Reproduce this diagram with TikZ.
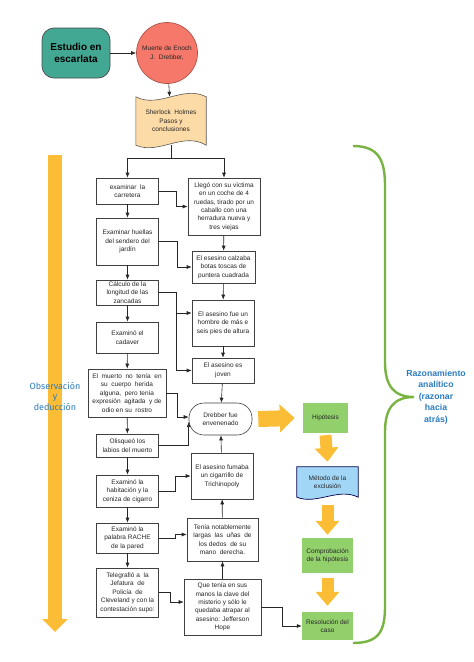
\documentclass[tikz,border=0pt]{standalone}
\usepackage{fontspec}
\setmainfont{Liberation Sans}
\newfontfamily\manofont{Fira Sans}
\usetikzlibrary{positioning, arrows.meta, shapes.geometric, backgrounds}
\definecolor{verdeazul}{HTML}{43A893}
\definecolor{salmon}{HTML}{F5786A}
\definecolor{pergamino}{HTML}{FDDBA6}
\definecolor{verdecaja}{HTML}{92D06C}
\definecolor{celeste}{HTML}{A2D6F7}
\definecolor{naranja}{HTML}{FBBD35}
\definecolor{llave}{HTML}{79B443}
\definecolor{azultexto}{HTML}{2B7BC0}

\begin{document}
\begin{tikzpicture}[
    x=1pt, y=-1pt,
    every node/.style={align=center, font=\fontsize{6.5}{8.4}\selectfont, text=black!85},
    inicio/.style={rectangle, rounded corners=12pt, draw=black!70, fill=verdeazul, line width=0.7pt, minimum width=68pt, minimum height=50pt, font=\bfseries\fontsize{10}{12.5}\selectfont, text=black},
    suceso/.style={circle, draw=salmon!70!black, fill=salmon, line width=0.7pt, minimum size=61pt, inner sep=0pt},
    paso/.style={rectangle, draw=black!75, fill=white, line width=0.6pt, inner sep=1pt},
    izq/.style={paso, minimum width=62pt},
    metodo/.style={rectangle, fill=verdecaja, inner sep=1pt},
    arrow/.style={-{Latex[length=5pt, width=4pt]}, line width=0.6pt, black!85},
    gorda/.style={naranja, line width=#1},
]

% --- Inicio
\draw[use as bounding box, draw=none] (0,0) rectangle (474,662);
\node[inicio] (estudio) at (76,53) {Estudio en\\escarlata};
\node[suceso] (muerte) at (167,53) {Muerte de Enoch\\J.\ \ Drebber,};
\node[minimum width=70pt, minimum height=48pt, inner sep=0pt] (pasos) at (171,121) {Sherlock\ \ Holmes\\Pasos y\\conclusiones};
\begin{scope}[on background layer]
\draw[fill=pergamino, draw=black!65, line width=0.6pt] (pasos.north west) .. controls +(23,12) and +(-23,-12) .. (pasos.north east) -- (pasos.south east) .. controls +(-23,-14) and +(23,10) .. (pasos.south west) -- cycle;
\end{scope}
\coordinate (reparto) at (171,158);

% --- Columna izquierda
\node[izq, minimum height=26pt] (carretera) at (127.5,191) {examinar\ \ la\\carretera};
\node[izq, minimum height=47pt] (huellas) at (127.5,241.5) {Examinar huellas\\del sendero del\\jardín};
\node[izq, minimum height=25pt] (zancadas) at (127.5,292.5) {Cálculo de la\\longitud de las\\zancadas};
\node[izq, minimum height=31pt] (cadaver) at (127.5,337.5) {Examinó el\\cadaver};
\node[paso, minimum width=78pt, minimum height=48pt] (muerto) at (127,393) {El\ \ muerto\ \ no\ \ tenía\ \ en\\su\ \ cuerpo\ \ herida\\alguna,\ \ pero tenía\\expresión\ \ agitada\ \ y de\\odio en su\ \ rostro};
\node[izq, minimum height=23pt] (labios) at (127.5,445.5) {Olisqueó los\\labios del muerto};
\node[izq, minimum height=32pt] (habitacion) at (127.5,491) {Examinó la\\habitación y la\\ceniza de cigarro};
\node[izq, minimum height=30pt] (rache) at (127.5,538) {Examinó la\\palabra RACHE\\de la pared};
\node[izq, minimum height=49pt] (telegrafo) at (127.5,592.5) {Telegrafió a\ \ la\\Jefatura\ \ de\\Policía\ \ de\\Cleveland y con la\\contestación supo:};

% --- Columna derecha
\node[paso, minimum width=72pt, minimum height=57pt] (coche) at (224,206.5) {Llegó con su víctima\\en un coche de 4\\ruedas, tirado por un\\caballo con una\\herradura nueva y\\tres viejas};
\node[paso, minimum width=63pt, minimum height=32pt] (botas) at (223.5,267) {El esesino calzaba\\botas toscas de\\puntera cuadrada};
\node[paso, minimum width=62pt, minimum height=46pt] (altura) at (223,323) {El asesino fue un\\hombre de más e\\seis pies de altura};
\node[paso, minimum width=62pt, minimum height=25pt] (joven) at (223,370.5) {El asesino es\\joven};
\node[paso, rounded corners=15pt, minimum width=63pt, minimum height=32pt] (veneno) at (220.5,419) {Drebber fue\\envenenado};
\node[paso, minimum width=62pt, minimum height=46pt] (fumaba) at (222,476) {El asesino fumaba\\un cigarrillo de\\Trichinopoly};
\node[paso, minimum width=71pt, minimum height=43pt] (unas) at (222.5,539.5) {Tenía notablemente\\largas\ \ las\ \ uñas\ \ de\\los dedos\ \ de su\\mano\ \ derecha.};
\node[paso, minimum width=77pt, minimum height=56pt] (hope) at (222.5,607) {Que tenía en sus\\manos la clave del\\misterio y sólo le\\quedaba atrapar al\\asesino: Jefferson\\Hope};

% --- Razonamiento
\node[metodo, minimum width=45pt, minimum height=30pt] (hipotesis) at (325.5,418) {Hipótesis};
\node[minimum width=61pt, minimum height=30pt, inner sep=0pt] (exclusion) at (327.5,482) {Método de la\\exclusión};
\begin{scope}[on background layer]
\draw[fill=celeste, draw=blue!30!black, line width=0.7pt] (exclusion.north west) -- (exclusion.north east) -- (exclusion.south east) .. controls +(-20,-10) and +(20,8) .. (exclusion.south west) -- cycle;
\end{scope}
\node[metodo, minimum width=51pt, minimum height=35pt] (comprobacion) at (327.5,555.5) {Comprobación\\de la hipótesis};
\node[metodo, minimum width=51pt, minimum height=28pt] (resolucion) at (327.5,626) {Resolución del\\caso};

% --- Flechas principales
\draw[arrow] (estudio) -- (muerte);
\draw[arrow] (muerte) -- (pasos);
\draw[line width=0.6pt, black!85] (pasos.south) -- (reparto);
\draw[arrow] (reparto) -| (carretera.north);
\draw[arrow] (reparto) -| (coche.north);

\draw[arrow] (carretera) -- (huellas);
\draw[arrow] (huellas) -- (zancadas);
\draw[arrow] (zancadas) -- (cadaver);
\draw[arrow] (cadaver) -- (muerto);
\draw[arrow] (muerto) -- (labios);
\draw[arrow] (labios) -- (habitacion);
\draw[arrow] (habitacion) -- (rache);
\draw[arrow] (rache) -- (telegrafo);

\draw[arrow] (coche) -- (botas);
\draw[arrow] (botas) -- (altura);
\draw[arrow] (altura) -- (joven);
\draw[arrow] (joven) -- (veneno);
\draw[arrow] (fumaba) -- (veneno);
\draw[arrow] (unas) -- (fumaba);
\draw[arrow] (hope) -- (unas);

% De izquierda a derecha
\draw[arrow] (carretera.east) -- ++(17,0) |- (coche.west);
\draw[arrow] (huellas.east) -- ++(18,0) |- (botas.west);
\draw[arrow] (zancadas.east) -- ++(17,0) |- ([yshift=10pt]altura.west);
\draw[arrow] (zancadas.east) -- ++(17,0) |- (joven.west);
\draw[arrow] (muerto.east) -- ++(11,0) |- ([yshift=2pt]veneno.west);
\draw[arrow] (labios.east) -| ([yshift=-3pt]veneno.west);
\draw[arrow] (habitacion.east) -- ++(16,0) |- (fumaba.west);
\draw[arrow] (rache.east) -- ++(16,0) |- ([yshift=5pt]unas.west);
\draw[arrow] (telegrafo.east) -- ++(11,0) |- ([yshift=5pt]hope.west);
\draw[arrow] (hope.east) -- ++(21,0) |- (resolucion.west);

% --- Flechas naranjas
\draw[gorda=16pt, -{Triangle[length=15pt, width=27pt]}] ([xshift=6pt]veneno.east) -- ([xshift=-8pt]hipotesis.west);
\draw[gorda=12pt, -{Triangle[length=14pt, width=23pt]}] ([yshift=-2pt]hipotesis.south) -- ([yshift=5pt]exclusion.north);
\draw[gorda=12pt, -{Triangle[length=14pt, width=23pt]}] ([yshift=-8pt]exclusion.south) -- ([yshift=3pt]comprobacion.north);
\draw[gorda=12pt, -{Triangle[length=14pt, width=23pt]}] ([yshift=-5pt]comprobacion.south) -- ([yshift=6pt]resolucion.north);

% --- Observacion y deduccion
\draw[gorda=14pt, -{Triangle[length=13pt, width=25pt]}] (55,155) -- (55,632);
\node[font=\manofont\fontsize{9}{10.5}\selectfont, text=azultexto] (observacion) at (55,396) {Observación\\y\\deducción};

% --- Llave
\draw[llave, line width=2.4pt] (353,146) .. controls (380,146) and (385,162) .. (385,186) -- (385,362) .. controls (385,386) and (394,397) .. (414,397) .. controls (394,397) and (385,408) .. (385,432) -- (385,606) .. controls (385,630) and (380,643) .. (353,643);
\node[font=\bfseries\fontsize{8.7}{11.6}\selectfont, text=azultexto] (razonamiento) at (436,397) {Razonamiento\\analítico\\(razonar\\hacia\\atrás)};

\end{tikzpicture}
\end{document}
